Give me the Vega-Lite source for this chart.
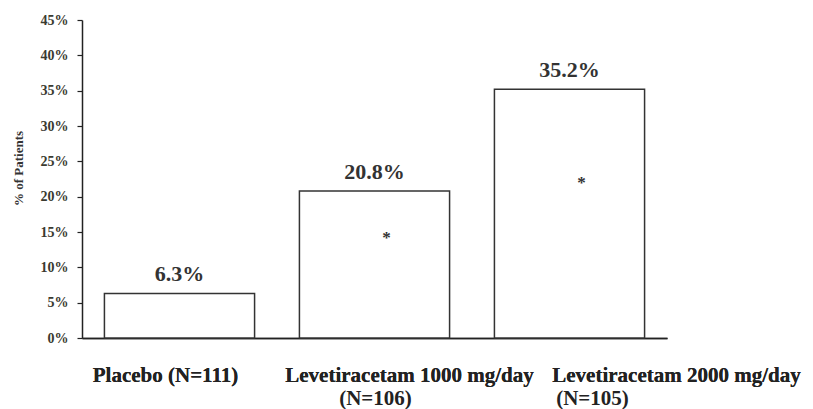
{
  "$schema": "https://vega.github.io/schema/vega-lite/v6.json",
  "width": 585,
  "height": 318,
  "autosize": "none",
  "padding": {"left": 82, "top": 20, "right": 146, "bottom": 71},
  "background": "white",
  "config": {"view": {"stroke": null}, "font": "Liberation Serif"},
  "data": {
    "values": [
      {"group": "Placebo (N=111)", "pct": 0.063, "label": "6.3%", "star": null},
      {"group": "Levetiracetam 1000 mg/day|(N=106)", "pct": 0.208, "label": "20.8%", "star": 0.1415},
      {"group": "Levetiracetam 2000 mg/day|(N=105)", "pct": 0.352, "label": "35.2%", "star": 0.219}
    ]
  },
  "encoding": {
    "x": {
      "field": "group",
      "type": "nominal",
      "sort": null,
      "scale": {"paddingInner": 0.23, "paddingOuter": 0.115},
      "axis": {
        "orient": "bottom",
        "title": null,
        "domainColor": "#222",
        "domainWidth": 1.5,
        "ticks": false,
        "tickSize": 0,
        "labelAngle": 0,
        "labelFont": "Liberation Serif",
        "labelFontWeight": "bold",
        "labelFontSize": 21,
        "labelColor": "#222",
        "labelPadding": 26,
        "labelBaseline": "top",
        "labelExpr": "split(datum.label,'|')[0]",
        "labelOffset": {
          "condition": [
            {"test": "indexof(datum.value,'1000')>=0", "value": 35},
            {"test": "indexof(datum.value,'2000')>=0", "value": 107}
          ],
          "value": -14
        },
        "labelLimit": 0,
        "labelOverlap": false,
        "labelBound": false,
        "labelFlush": false
      }
    },
    "y": {
      "field": "pct",
      "type": "quantitative",
      "title": "% of Patients",
      "scale": {"domain": [0, 0.45]},
      "axis": {
        "values": [0, 0.05, 0.1, 0.15, 0.2, 0.25, 0.3, 0.35, 0.4, 0.45],
        "format": ".0%",
        "grid": false,
        "titleFont": "Liberation Serif",
        "titleFontSize": 13,
        "titleFontWeight": "bold",
        "titleColor": "#333",
        "titlePadding": 15,
        "titleY": 148,
        "labelFont": "Liberation Serif",
        "labelFontSize": 14,
        "labelFontWeight": "bold",
        "labelColor": "#3a3a30",
        "labelPadding": 9,
        "tickSize": 5,
        "tickColor": "#222",
        "tickWidth": 1.2,
        "domainColor": "#222",
        "domainWidth": 1.5
      }
    }
  },
  "layer": [
    {
      "mark": {"type": "bar", "fill": "white", "stroke": "#333", "strokeWidth": 1.5}
    },
    {
      "mark": {
        "type": "text",
        "font": "Liberation Serif",
        "fontWeight": "bold",
        "fontSize": 22,
        "color": "#333",
        "dy": -12,
        "baseline": "alphabetic"
      },
      "encoding": {"text": {"field": "label"}}
    },
    {
      "transform": [{"filter": "datum.star != null"}],
      "mark": {
        "type": "text",
        "text": "*",
        "font": "Liberation Serif",
        "fontWeight": "bold",
        "fontSize": 17,
        "color": "#333",
        "dx": 12,
        "baseline": "middle"
      },
      "encoding": {
        "x": {
          "field": "group",
          "type": "nominal",
          "sort": null,
          "axis": {
            "orient": "bottom",
            "title": null,
            "domain": false,
            "ticks": false,
            "tickSize": 0,
            "labelAngle": 0,
            "labelFont": "Liberation Serif",
            "labelFontWeight": "bold",
            "labelFontSize": 21,
            "labelColor": "#222",
            "labelPadding": 49,
            "labelBaseline": "top",
            "labelExpr": "length(split(datum.label,'|'))>1 ? split(datum.label,'|')[1] : ''",
            "labelOffset": {
              "condition": {"test": "indexof(datum.value,'2000')>=0", "value": 23},
              "value": 1
            },
            "labelLimit": 0,
            "labelOverlap": false,
            "labelBound": false,
            "labelFlush": false
          }
        },
        "y": {"field": "star", "type": "quantitative", "title": "% of Patients"}
      }
    }
  ],
  "resolve": {"axis": {"x": "independent"}}
}
